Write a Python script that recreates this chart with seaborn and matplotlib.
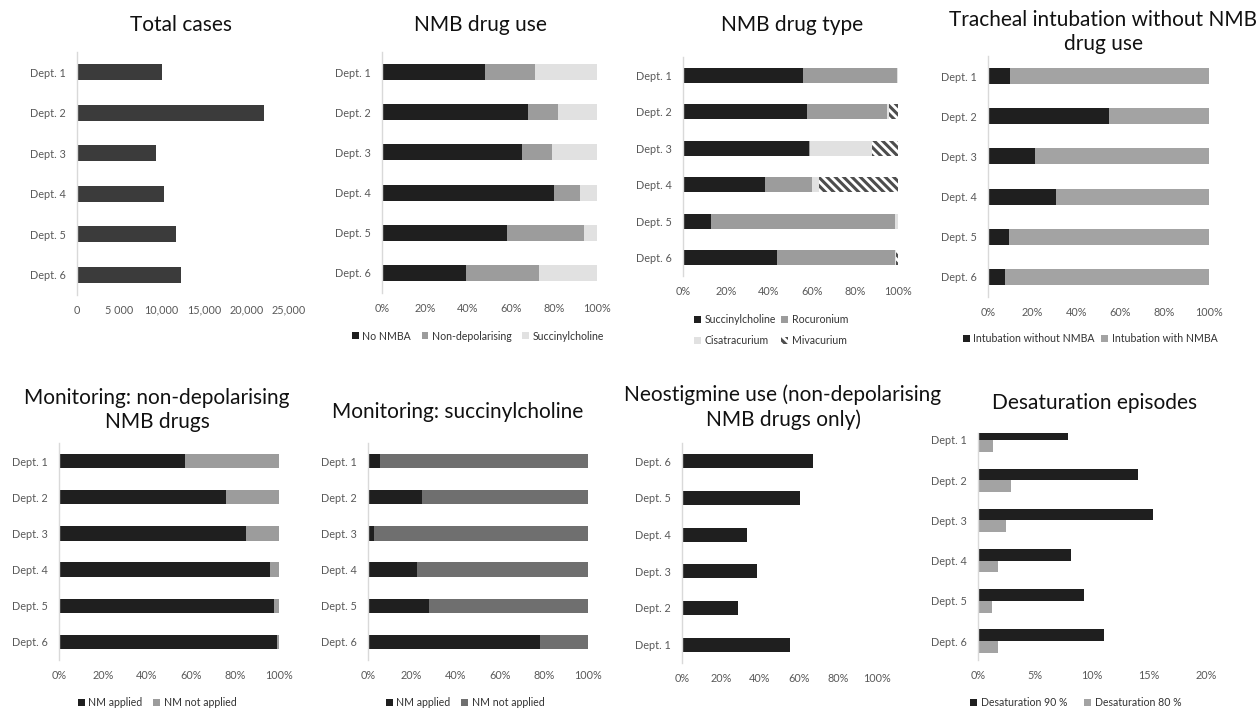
import matplotlib
matplotlib.use("Agg")
import matplotlib.pyplot as plt
from matplotlib.patches import Patch
import numpy as np
import pandas as pd
import seaborn as sns

sns.set_theme(style="white")
plt.rcParams["font.family"] = ["Lato", "DejaVu Sans"]
plt.rcParams["hatch.linewidth"] = 2.2
plt.rcParams["hatch.color"] = "#4d4d4d"

# ---- data -------------------------------------------------------------
depts = ["Dept. 1", "Dept. 2", "Dept. 3", "Dept. 4", "Dept. 5", "Dept. 6"]

total_cases = [10000, 22050, 9350, 10250, 11750, 12250]
case_ticks = [0, 5000, 10000, 15000, 20000, 25000]
case_tick_labels = ["0", "5 000", "10,000", "15,000", "20,000", "25,000"]

use_no_nmba = [48, 68, 65, 80, 58, 39]
use_non_depol = [23, 14, 14, 12, 36, 34]
use_succ = [29, 18, 21, 8, 6, 27]

type_succ = [55.6, 57.5, 58.7, 38.2, 13.0, 43.7]
type_rocur = [43.9, 37.4, 0.5, 21.6, 85.6, 54.9]
type_cisat = [0.5, 0.6, 28.7, 3.4, 1.4, 0.4]
type_mivac = [0.0, 4.5, 12.1, 36.8, 0.0, 1.0]

intub_without = [10.0, 54.8, 21.0, 30.9, 9.4, 7.7]
intub_with = [90.0, 45.2, 79.0, 69.1, 90.6, 92.3]

mon_nondep_applied = [57.4, 76.0, 85.1, 96.2, 98.0, 99.4]
mon_nondep_not = [42.6, 24.0, 14.9, 3.8, 2.0, 0.6]

mon_succ_applied = [5.5, 24.5, 2.9, 22.6, 28.0, 78.2]
mon_succ_not = [94.5, 75.5, 97.1, 77.4, 72.0, 21.8]

neostigmine = [55.7, 28.8, 38.4, 33.6, 60.6, 67.5]
neo_order = ["Dept. 6", "Dept. 5", "Dept. 4", "Dept. 3", "Dept. 2", "Dept. 1"]

desat_90 = [7.9, 14.0, 15.4, 8.2, 9.3, 11.05]
desat_80 = [1.35, 2.9, 2.45, 1.8, 1.25, 1.8]

pct_ticks = [0, 20, 40, 60, 80, 100]
pct_labels = ["0%", "20%", "40%", "60%", "80%", "100%"]
desat_ticks = [0, 5, 10, 15, 20]
desat_labels = ["0%", "5%", "10%", "15%", "20%"]

# ---- colours ----------------------------------------------------------
BLACK = "#1f1f1f"
DARK = "#3b3b3b"
MID = "#9c9c9c"
MID2 = "#a3a3a3"
GREY70 = "#6f6f6f"
LIGHT = "#e1e1e1"
HATCH_C = "#4d4d4d"
TICK_C = "#595959"
HATCH = "\\\\\\\\"

# ---- figure -----------------------------------------------------------
W, H = 1258, 711
fig = plt.figure(figsize=(W / 100, H / 100), dpi=100)
fig.patch.set_facecolor("white")


def add_ax(left, top, right, bottom):
    return fig.add_axes([left / W, 1 - bottom / H, (right - left) / W, (bottom - top) / H])


def style(ax, ticks, labels, xlim, ylim=(5.5, -0.5)):
    ax.set_xlim(*xlim)
    ax.set_ylim(*ylim)
    ax.set_xticks(ticks)
    ax.set_xticklabels(labels)
    ax.set_xlabel("")
    ax.set_ylabel("")
    for s in ["top", "right", "bottom"]:
        ax.spines[s].set_visible(False)
    ax.spines["left"].set_color("#d9d9d9")
    ax.spines["left"].set_linewidth(1.0)
    ax.tick_params(axis="both", length=0, labelsize=7.8, labelcolor=TICK_C)
    ax.tick_params(axis="y", pad=8)
    ax.tick_params(axis="x", pad=7)
    ax.set_facecolor("white")


def title(text, x, y, size=15):
    fig.text(x / W, 1 - y / H, text, ha="center", va="center",
             fontsize=size, color="#111111", linespacing=1.25)


def stacked(ax, segments, colors, hatches=None, order=None):
    cum = np.cumsum(np.array(segments, dtype=float), axis=0)
    for i in reversed(range(len(segments))):
        kw = dict(linewidth=0)
        if hatches and hatches[i]:
            kw.update(hatch=hatches[i], edgecolor=HATCH_C)
        sns.barplot(x=cum[i], y=depts, order=order, orient="h", color=colors[i],
                    width=0.4, saturation=1, errorbar=None, ax=ax, **kw)


def legend(ax, handles, labels, cx, cy, ncol=None, colspace=1.0):
    ax.legend(handles, labels, loc="center", bbox_to_anchor=(cx / W, 1 - cy / H),
              bbox_transform=fig.transFigure, ncol=ncol or len(handles), frameon=False,
              fontsize=7.6, handlelength=0.65, handleheight=0.65, handletextpad=0.35,
              columnspacing=colspace, labelcolor="#333333", borderaxespad=0,
              labelspacing=0.9)


def sq(color, hatch=None):
    if hatch:
        return Patch(facecolor="white", hatch=hatch, edgecolor=HATCH_C, linewidth=0)
    return Patch(facecolor=color, edgecolor="none")


# 1. Total cases
ax1 = add_ax(76.5, 52, 289, 295)
sns.barplot(x=total_cases, y=depts, orient="h", color=DARK, width=0.4,
            saturation=1, errorbar=None, linewidth=0, ax=ax1)
style(ax1, case_ticks, case_tick_labels, (0, 25000))
title("Total cases", 181, 25)

# 2. NMB drug use
ax2 = add_ax(381.7, 52, 597.3, 293)
stacked(ax2, [use_no_nmba, use_non_depol, use_succ], [BLACK, MID, LIGHT])
style(ax2, pct_ticks, pct_labels, (0, 100))
title("NMB drug use", 480, 25)
legend(ax2, [sq(BLACK), sq(MID), sq(LIGHT)],
       ["No NMBA", "Non-depolarising", "Succinylcholine"], 478, 336)

# 3. NMB drug type
ax3 = add_ax(682.7, 57, 898.3, 276)
stacked(ax3, [type_succ, type_rocur, type_cisat, type_mivac],
        [BLACK, MID, LIGHT, "white"], hatches=[None, None, None, HATCH])
style(ax3, pct_ticks, pct_labels, (0, 100))
title("NMB drug type", 792, 25)
legend(ax3, [sq(BLACK), sq(LIGHT), sq(MID), sq(None, HATCH)],
       ["Succinylcholine", "Cisatracurium", "Rocuronium", "Mivacurium"],
       771, 330, ncol=2, colspace=0.5)

# 4. Tracheal intubation without NMB drug use
ax4 = add_ax(988.3, 56, 1208.7, 297)
stacked(ax4, [intub_without, intub_with], [BLACK, MID2])
style(ax4, pct_ticks, pct_labels, (0, 100))
title("Tracheal intubation without NMB\ndrug use", 1103, 32)
legend(ax4, [sq(BLACK), sq(MID2)],
       ["Intubation without NMBA", "Intubation with NMBA"], 1090, 339, colspace=0.6)

# 5. Monitoring: non-depolarising NMB drugs
ax5 = add_ax(59.3, 443, 278.7, 660)
stacked(ax5, [mon_nondep_applied, mon_nondep_not], [BLACK, MID])
style(ax5, pct_ticks, pct_labels, (0, 100))
title("Monitoring: non-depolarising\nNMB drugs", 157, 410)
legend(ax5, [sq(BLACK), sq(MID)], ["NM applied", "NM not applied"], 157, 703)

# 6. Monitoring: succinylcholine
ax6 = add_ax(367.7, 443, 587.7, 660)
stacked(ax6, [mon_succ_applied, mon_succ_not], [BLACK, GREY70])
style(ax6, pct_ticks, pct_labels, (0, 100))
title("Monitoring: succinylcholine", 458, 412)
legend(ax6, [sq(BLACK), sq(GREY70)], ["NM applied", "NM not applied"], 465, 703)

# 7. Neostigmine use
ax7 = add_ax(682, 443, 876.7, 663)
sns.barplot(x=neostigmine, y=depts, order=neo_order, orient="h", color=BLACK,
            width=0.38, saturation=1, errorbar=None, linewidth=0, ax=ax7)
style(ax7, pct_ticks, pct_labels, (0, 100))
title("Neostigmine use (non-depolarising\nNMB drugs only)", 783, 407)

# 8. Desaturation episodes
ax8 = add_ax(977.7, 433, 1206, 660)
desat = pd.DataFrame({
    "dept": depts * 2,
    "value": desat_90 + desat_80,
    "level": ["Desaturation 90 %"] * 6 + ["Desaturation 80 %"] * 6,
})
sns.barplot(data=desat, x="value", y="dept", hue="level", orient="h",
            palette=[BLACK, MID2], width=0.58, saturation=1, errorbar=None,
            linewidth=0, legend=False, ax=ax8)
style(ax8, desat_ticks, desat_labels, (0, 20), ylim=(5.47, -0.174))
title("Desaturation episodes", 1095, 403)
legend(ax8, [sq(BLACK), sq(MID2)], ["Desaturation 90 %", "Desaturation 80 %"], 1076, 703,
       colspace=1.6)

fig.savefig("out.png", dpi=100, facecolor="white")
